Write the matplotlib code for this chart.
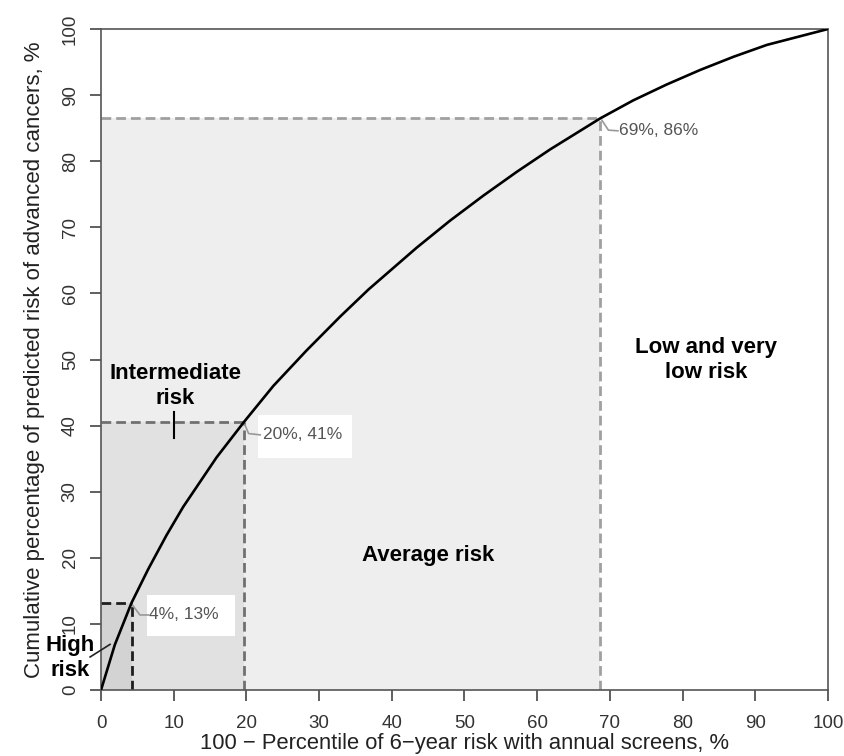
import numpy as np
import matplotlib.pyplot as plt
from matplotlib.patches import Rectangle

plt.rcParams['font.family'] = ['Liberation Sans', 'DejaVu Sans']

# curve
pct_x = [0, 1.9, 4.2, 6.5, 9.0, 11.3, 15.9, 19.7, 23.7, 28.3, 32.9, 36.8, 43.4, 48.0,
         52.6, 57.2, 61.8, 68.7, 73.2, 77.8, 82.4, 87.0, 91.6, 100]
cum_y = [0, 6.85, 13.2, 18.3, 23.4, 27.7, 35.2, 40.6, 46.0, 51.4, 56.5, 60.6, 66.9, 71.0,
         74.8, 78.4, 81.8, 86.5, 89.2, 91.6, 93.8, 95.8, 97.6, 100]

# cut points: high / intermediate / average
cut_x = [4.2, 19.7, 68.7]
cut_y = [13.2, 40.6, 86.5]
cut_labels = ["4%, 13%", "20%, 41%", "69%, 86%"]
shade = ["#d3d3d3", "#e1e1e1", "#eeeeee"]
dash_col = ["#1e1e1e", "#707070", "#a0a0a0"]

fig = plt.figure(figsize=(8.44, 7.56), dpi=100)
ax = fig.add_axes([0.1197, 0.0873, 0.8613, 0.8743])

for i in [2, 1, 0]:
    ax.add_patch(Rectangle((0, 0), cut_x[i], cut_y[i], facecolor=shade[i], edgecolor="none", zorder=1))
for i in [2, 1, 0]:
    ax.plot([0, cut_x[i]], [cut_y[i], cut_y[i]], color=dash_col[i], lw=2, dashes=(3.5, 1.8), zorder=2)
    ax.plot([cut_x[i], cut_x[i]], [0, cut_y[i]], color=dash_col[i], lw=2, dashes=(3.5, 1.8), zorder=2)

ax.plot(pct_x, cum_y, color="black", lw=1.9, zorder=4, solid_joinstyle="round")

# white label boxes
ax.add_patch(Rectangle((6.29, 8.1), 12.14, 6.3, facecolor="white", edgecolor="none", zorder=3))
ax.add_patch(Rectangle((21.64, 35.1), 12.83, 6.5, facecolor="white", edgecolor="none", zorder=3))

# small leaders to labels
ax.plot([4.3, 5.35, 6.5], [12.9, 11.35, 11.35], color="#999999", lw=1.2, zorder=3)
ax.plot([19.8, 20.3, 21.9], [40.1, 38.8, 38.6], color="#999999", lw=1.2, zorder=3)
ax.plot([68.9, 69.8, 71.1], [86.2, 84.7, 84.6], color="#999999", lw=1.2, zorder=3)

lab_pos = [(6.6, 11.35), (22.3, 38.6), (71.3, 84.6)]
for (lx, ly), t in zip(lab_pos, cut_labels):
    ax.text(lx, ly, t, fontsize=12.5, color="#555555", ha="left", va="center", zorder=5)

# group names
ax.text(10.2, 46.0, "Intermediate\nrisk", fontsize=16, fontweight="bold", ha="center", va="center",
        linespacing=1.3, zorder=5)
ax.plot([10.0, 10.0], [38.1, 42.1], color="black", lw=1.5, zorder=5)
ax.text(45.0, 20.4, "Average risk", fontsize=16, fontweight="bold", ha="center", va="center", zorder=5)
ax.text(83.2, 50.0, "Low and very\nlow risk", fontsize=16, fontweight="bold", ha="center", va="center",
        linespacing=1.25, zorder=5)
ax.text(-4.3, 4.9, "High\nrisk", fontsize=16, fontweight="bold", ha="center", va="center",
        linespacing=1.25, zorder=5, clip_on=False)
ax.plot([-1.5, 1.24], [5.0, 6.9], color="#222222", lw=1.2, zorder=5, clip_on=False)

ax.set_xlim(0, 100)
ax.set_ylim(0, 100)
ax.set_xticks(np.arange(0, 101, 10))
ax.set_yticks(np.arange(0, 101, 10))
ax.tick_params(direction="out", length=8, width=1.2, color="#444444", labelsize=13.5,
               labelcolor="#333333")
ax.tick_params(axis="x", pad=10)
ax.tick_params(axis="y", pad=8)
plt.setp(ax.get_yticklabels(), rotation=90, va="center")
for s in ax.spines.values():
    s.set_color("#555555")
    s.set_linewidth(1.2)

ax.set_xlabel("100 \u2212 Percentile of 6\u2212year risk with annual screens, %", fontsize=15.8,
              color="#222222", labelpad=1)
ax.set_ylabel("Cumulative percentage of predicted risk of advanced cancers, %", fontsize=16,
              color="#222222", labelpad=12)

fig.savefig("out.png", dpi=100)
